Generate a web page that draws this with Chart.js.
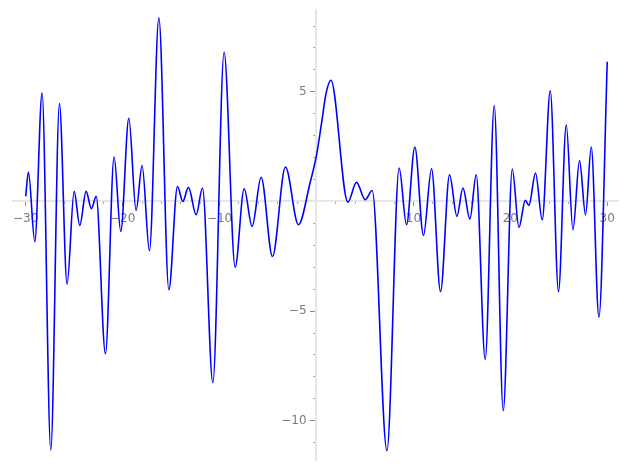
<!DOCTYPE html>
<html>
<head>
<meta charset="utf-8">
<script src="https://cdn.jsdelivr.net/npm/chart.js@4/dist/chart.umd.min.js"></script>
<style>
html, body { margin: 0; padding: 0; background: #fff; }
#wrap { width: 627px; height: 470px; }
</style>
</head>
<body>
<div id="wrap"><canvas id="plot" width="627" height="470"></canvas></div>
<script>
// curve samples (mostly the turning points)
const xValues = [
    -30, -29.72, -29.06, -28.31, -27.41, -26.52, -25.73, -25.0, -24.42, -23.77,
    -23.22, -22.73, -21.77, -20.88, -20.19, -19.36, -18.61, -17.99, -17.23, -16.26,
    -15.23, -14.34, -13.79, -13.21, -12.41, -11.76, -10.69, -9.53, -8.39, -7.46,
    -6.64, -5.71, -4.54, -3.20, -1.86, -0.67, 0, 0.5, 1.0, 1.49,
    3.24, 4.13, 5.03, 5.75, 7.27, 8.53, 9.29, 10.15, 11.04, 11.87,
    12.80, 13.73, 14.49, 15.11, 15.83, 16.48, 17.41, 18.34, 19.27, 20.20,
    20.89, 21.54, 21.92, 22.60, 23.29, 24.12, 24.97, 25.77, 26.46, 27.14,
    27.76, 28.35, 29.14, 30
];
const yValues = [
    0.23, 1.34, -1.83, 4.95, -11.34, 4.46, -3.77, 0.46, -1.10, 0.46,
    -0.33, 0.23, -6.95, 2.03, -1.37, 3.79, -0.41, 1.64, -2.25, 8.37,
    -4.03, 0.68, 0.0, 0.64, -0.61, 0.61, -8.26, 6.80, -3.0, 0.58,
    -1.14, 1.10, -2.51, 1.57, -1.06, 0.83, 2.1, 3.5, 4.95, 5.53,
    -0.03, 0.87, 0.08, 0.50, -11.37, 1.52, -1.06, 2.48, -1.55, 1.49,
    -4.11, 1.22, -0.68, 0.61, -0.80, 1.22, -7.20, 4.37, -9.54, 1.48,
    -1.19, 0.05, -0.18, 1.30, -0.84, 5.05, -4.11, 3.49, -1.29, 1.86,
    -0.61, 2.48, -5.28, 6.37
];

const xMajorTicks = [-30, -20, -10, 10, 20, 30];
const xMinorTicks = [-30, -28, -26, -24, -22, -20, -18, -16, -14, -12, -10, -8, -6, -4, -2,
    2, 4, 6, 8, 10, 12, 14, 16, 18, 20, 22, 24, 26, 28, 30];
const yMajorTicks = [-10, -5, 5];
const yMinorTicks = [-11, -10, -9, -8, -7, -6, -5, -4, -3, -2, -1, 1, 2, 3, 4, 5, 6, 7, 8];

const xRange = [-31.34, 31.14];
const yRange = [-11.79, 8.73];

const tickFont = {family: 'DejaVu Sans', size: 12};
const fmt = v => v < 0 ? '\u2212' + Math.abs(v) : String(v);
// y labels sit right-aligned on the axis line, so a trailing gap keeps them off the ticks
const yLabelGap = '\u2002\u2004';

function axisOpts(dir, range, tickList, len, major) {
    return {
        type: 'linear',
        axis: dir,
        min: range[0],
        max: range[1],
        position: dir === 'x' ? {y: 0} : {x: 0},
        afterBuildTicks: scale => { scale.ticks = tickList.map(v => ({value: v})); },
        grid: {drawOnChartArea: false, drawTicks: true, tickLength: len, tickColor: '#8a8a8a', tickWidth: 1},
        border: {display: major, color: '#e6e6e6', width: 2},
        ticks: {
            display: major,
            color: '#7a7a7a',
            font: tickFont,
            padding: dir === 'x' ? 6 : 0,
            maxRotation: 0,
            autoSkip: false,
            callback: v => dir === 'x' ? fmt(v) : fmt(v) + yLabelGap
        }
    };
}

new Chart(document.getElementById('plot').getContext('2d'), {
    type: 'line',
    data: {
        datasets: [{
            data: xValues.map((x, i) => ({x: x, y: yValues[i]})),
            borderColor: '#0000ff',
            borderWidth: 1.6,
            pointRadius: 0,
            fill: false,
            cubicInterpolationMode: 'monotone',
            xAxisID: 'x',
            yAxisID: 'y'
        }]
    },
    options: {
        responsive: false,
        animation: false,
        layout: {padding: {left: 12.7, right: 8.7, top: 10, bottom: 10}},
        plugins: {legend: {display: false}, tooltip: {enabled: false}},
        scales: {
            x: axisOpts('x', xRange, xMajorTicks, 4, true),
            xMinor: axisOpts('x', xRange, xMinorTicks, 2.5, false),
            y: axisOpts('y', yRange, yMajorTicks, 5, true),
            yMinor: axisOpts('y', yRange, yMinorTicks, 2.5, false)
        }
    }
});
</script>
</body>
</html>
